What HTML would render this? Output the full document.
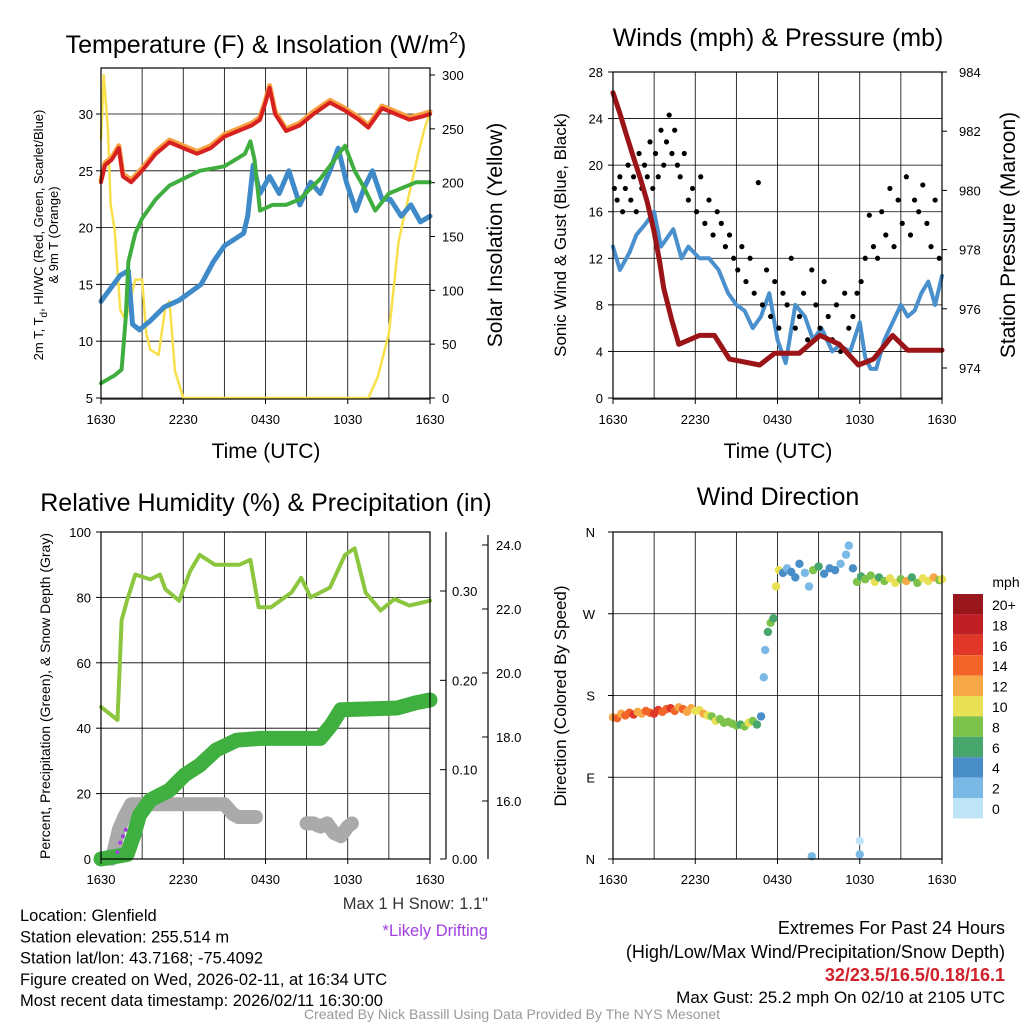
<!DOCTYPE html>
<html><head><meta charset="utf-8"><style>
html,body{margin:0;padding:0;background:#fff}
svg{display:block;font-family:"Liberation Sans",sans-serif}
</style></head><body>
<svg id="s" width="1024" height="1024" viewBox="0 0 1024 1024" xmlns="http://www.w3.org/2000/svg"></svg>
<script>
// ---- Panel 1 data ----
const redT=[0,0.3,0.8,1.3,1.6,2.2,3,4,5,6,7,8,9,10,11,11.6,12,12.3,12.7,13.5,14.5,15.5,16.7,17.8,18.8,19.5,20.5,21.5,22.5,23.5,24];
const redV=[24,25.5,26,27,24.5,24,25,26.5,27.5,27,26.5,27,28,28.5,29,29.5,31,32.3,30,28.5,29,30,31,30.3,29.5,28.8,30.5,30,29.5,29.8,30];
const greenT=[0,1,1.5,1.8,2,2.5,3,4,5,6,7.2,9,10.5,10.9,11.2,11.6,12.5,13.5,14.5,16,17.8,18.5,19.2,20,21,22,23,24];
const greenV=[6.3,7,7.5,12,17,19.5,20.8,22.5,23.7,24.3,25,25.4,26.5,27.6,26,21.5,22,22,22.5,24.3,27.2,25,23.5,21.5,23,23.5,24,24];
const blueT=[0,1.4,2,2.3,2.8,3.6,4.6,5.7,7.3,8.2,9,10.4,10.7,11.1,11.6,12.3,13,13.7,14.5,15.3,16,16.7,17.3,17.9,18.6,19.2,19.8,20.5,21.1,21.9,22.6,23.3,24];
const blueV=[13.5,15.8,16.2,11.5,11,11.8,13,13.6,15,17,18.4,19.5,21,25.5,23,24.5,23,25,22,24,23,25,27,24,21.5,23.5,25,22.5,22.5,21,22,20.5,21];
const yelT=[0,0.2,0.5,0.7,1,1.4,1.8,2.5,3,3.3,3.6,4.2,4.7,5,5.4,6,6.5,12,19.5,20.2,21,21.7,22.4,23.1,23.6,24];
const yelV=[240,300,250,180,156,82,72,110,110,60,45,40,85,90,25,0,0,0,0,20,60,145,185,225,250,265];
const p1LeftTicks=[5,10,15,20,25,30];
const p1RightTicks=[0,50,100,150,200,250,300];
const timeLabels=["1630","2230","0430","1030","1630"];
// ---- Panel 2 data ----
const windT=[0,0.5,1.2,1.7,2.4,3,3.5,4.4,5,5.5,6.3,7,7.7,8.4,9,9.6,10.2,10.8,11.4,12,12.6,13.3,14,14.6,15.2,16,16.5,17.3,18,18.4,18.8,19.2,19.8,20.2,21,21.5,22,22.5,23,23.5,24];
const windV=[13,11,12.5,14,15,16,13,14.5,12,13,12,12,11,9,8,7.5,6,7,9,5,3,8,7,5,6,4,4.5,4,6.5,3.5,2.5,2.5,5,6,8,7,7.5,9,10,8,10.5];
const gustT=[0.1,0.3,0.5,0.7,0.9,1.1,1.3,1.5,1.7,1.9,2.1,2.3,2.5,2.7,2.9,3.1,3.3,3.5,3.7,3.9,4.1,4.3,4.5,4.7,4.9,5.2,5.5,5.8,6.1,6.4,6.7,7,7.3,7.6,7.9,8.2,8.5,8.8,9.1,9.4,9.7,10,10.3,10.6,10.9,11.2,11.5,11.8,12.1,12.4,12.7,13,13.3,13.6,13.9,14.2,14.5,14.8,15.1,15.4,15.7,16,16.3,16.6,16.9,17.2,17.5,17.8,18.1,18.4,18.7,19,19.3,19.6,19.9,20.2,20.5,20.8,21.1,21.4,21.7,22,22.3,22.6,22.9,23.2,23.5,23.8];
const gustV=[18,17,19,16,18,20,17,19,16,21,18,20,19,22,18,21,19,23,20,22,24.3,21,23,20,19,21,17,18,16,19,15,17,14,16,15,13,14,12,11,13,10,12,9,18.5,8,11,7,10,6,9,8,12,6,7,9,5,11,8,6,10,7,5,8,4,9,6,7,9,10,12,15.7,13,12,16,14,18,13,17,15,19,14,17,16,18.3,15,13,17,12];
const presT=[0,0.5,0.9,1.5,2,2.5,3,3.4,3.7,4.3,4.8,6.3,7.4,8.5,10.7,11.8,13.6,15.1,16.5,17.9,19,20.4,21.5,23,24];
const presV=[983.3,982.6,982,981.1,980.4,979.6,978.6,977.6,976.7,975.6,974.8,975.1,975.1,974.3,974.1,974.5,974.5,975.1,974.8,974.1,974.3,975.1,974.6,974.6,974.6];
const p2LeftTicks=[0,4,8,12,16,20,24,28];
const p2RightTicks=[974,976,978,980,982,984];
// ---- Panel 3 data ----
const rhT=[0,1.2,1.5,1.9,2.5,3.6,4.3,4.7,5.7,6.5,7.2,8.3,10.1,10.9,11.5,12.4,13.9,14.6,15.3,16.7,17.8,18.5,19.3,20.4,21.4,22.5,24];
const rhV=[46.5,42.5,73,79,87,85.5,87,82.5,79,88,93,90,90,91.5,77,77,81.5,86,80,83,93,95,81.5,76,79.5,77.5,79];
const precT=[0,1.9,2.4,2.8,3.6,5,6.1,7.2,8.4,9.9,11.6,16,16.8,17.5,21.6,23,24];
const precV=[0,0.005,0.027,0.049,0.066,0.077,0.094,0.105,0.122,0.133,0.135,0.135,0.15,0.167,0.169,0.175,0.178];
const snowT=[0,0.8,1.3,1.7,2.2,2.8,3.5,5,7,9,9.6,10,10.5,11,11.3,11.4,15,15.5,16,16.5,17,17.5,18,18.3];
const snowV=[14.2,14.2,15.1,15.5,15.9,15.9,15.9,15.9,15.9,15.9,15.6,15.5,15.5,15.5,15.5,NaN,15.3,15.3,15.2,15.3,15.0,14.9,15.2,15.3];
const driftT=[1.2,1.4,1.6,1.8];
const driftV=[14.4,14.7,14.9,15.1];
const p3LeftTicks=[0,20,40,60,80,100];
const p3PrecTicks=[0,0.1,0.2,0.3];
const p3SnowTicks=[16,18,20,22,24];
// ---- Panel 4 data ----
const dirT=[0,0.3,0.6,0.9,1.2,1.5,1.8,2.1,2.4,2.7,3,3.3,3.6,3.9,4.2,4.5,4.8,5.1,5.4,5.7,6,6.3,6.6,6.9,7.2,7.5,7.8,8.1,8.4,8.7,9,9.3,9.6,9.9,10.2,10.5,10.8,11,11.1,11.3,11.5,11.7,11.9,12.1,12.4,12.7,13,13.3,13.6,14,14.3,14.6,15,15.4,15.8,16.2,16.6,17,17.2,17.5,17.8,18.1,18.4,18.8,19.1,19.4,19.8,20.2,20.6,21,21.4,21.8,22.2,22.6,23,23.4,23.8,24,14.5,18,18];
const dirDeg=[156,155,160,158,161,159,162,160,163,161,160,164,162,165,166,163,167,165,162,166,163,164,160,158,157,152,154,150,151,149,147,148,146,150,152,148,157,200,230,250,260,265,300,318,315,320,316,310,325,315,300,318,322,314,320,318,325,335,345,320,305,311,308,312,305,310,306,309,304,308,306,310,304,309,306,310,307,308,3,5,20];
const dirSpd=[13,14,12,15,14,16,13,12,15,14,17,16,15,14,16,15,13,14,12,12,11,10,12,11,9,10,9,8,9,8,8,7,9,10,9,7,5,2,2,6,8,6,10,11,4,3,5,4,4,3,2,8,6,4,5,4,3,2,2,4,8,6,8,9,10,7,8,10,11,9,12,7,8,10,11,12,9,10,2,2,1];
const cbLabels=["20+","18","16","14","12","10","8","6","4","2","0"];
const cbColors=["#9a161d","#c11f26","#e03728","#f26529","#f8a746","#e8e155","#7dc24a","#47a66b","#4a8ec7","#7ab9e5","#bfe4f8"];

const S=document.getElementById('s');
const NS="http://www.w3.org/2000/svg";
function mk(tag,attrs,parent){const e=document.createElementNS(NS,tag);for(const k in attrs)e.setAttribute(k,attrs[k]);(parent||S).appendChild(e);return e;}
function txt(x,y,str,size,anchor,extra){const e=mk('text',Object.assign({x:x,y:y,'font-size':size,'text-anchor':anchor||'middle',fill:'#000'},extra||{}));e.textContent=str;return e;}
function lin(d0,d1,r0,r1){return v=>r0+(v-d0)*(r1-r0)/(d1-d0);}
function pathFrom(T,V,sx,sy){let d="",pen=false;for(let i=0;i<T.length;i++){if(isNaN(V[i])){pen=false;continue;}d+=(pen?"L":"M")+sx(T[i]).toFixed(1)+","+sy(V[i]).toFixed(1);pen=true;}return d;}
function frame(x0,y0,x1,y1,name){
  const g=mk('g',{});
  
  
  for(let h=0;h<=24;h+=3){const x=x0+(x1-x0)*h/24;mk('line',{x1:x,x2:x,y1:y0,y2:y1,stroke:'#000','stroke-width':0.8},g);}
  return g;
}
function border(x0,y0,x1,y1){const r=mk('rect',{x:x0,y:y0,width:x1-x0,height:y1-y0,fill:'none',stroke:'#000','stroke-width':1.2});}
function timeAxis(x0,x1,y,size){for(let i=0;i<timeLabels.length;i++){const x=x0+(x1-x0)*i/4;mk('line',{x1:x,x2:x,y1:y,y2:y+5,stroke:'#000'});const t=txt(x,y+25,timeLabels[i],size);}}
function line(T,V,sx,sy,color,w,name){const p=mk('path',{d:pathFrom(T,V,sx,sy),fill:'none',stroke:color,'stroke-width':w,'stroke-linejoin':'round','stroke-linecap':'round'});return p;}

// ===== Panel 1 =====
(function(){
const x0=101,x1=430,y0=68,y1=399;
const sx=lin(0,24,x0,x1), sy=lin(5,30,398,114), sr=lin(0,300,398,75);
const g=frame(x0,y0,x1,y1,'temperature-grid');
p1LeftTicks.forEach(v=>{mk('line',{x1:x0,x2:x1,y1:sy(v),y2:sy(v),stroke:'#000','stroke-width':0.8},g);mk('line',{x1:x0-5,x2:x0,y1:sy(v),y2:sy(v),stroke:'#000'});const t=txt(x0-8,sy(v)+5,String(v),13,'end');});
p1RightTicks.forEach(v=>{mk('line',{x1:x1,x2:x1+5,y1:sr(v),y2:sr(v),stroke:'#000'});const t=txt(x1+12,sr(v)+5,String(v),13,'start');});
line(yelT,yelV,sx,sr,'#f7e04a',2.5,'insolation-line');
line(blueT,blueV,sx,sy,'#3f8ac8',5,'heat-index-line');
line(greenT,greenV,sx,sy,'#3fae3f',4,'dewpoint-line');
line(redT,redV.map(v=>v+0.2),sx,sy,'#f7a040',5,'temp-9m-line');
line(redT,redV,sx,sy,'#d72020',4,'temp-2m-line');
border(x0,y0,x1,y1);
timeAxis(x0,x1,y1,13);
let t=mk('text',{x:266,y:53,'font-size':25,'text-anchor':'middle'});t.innerHTML='Temperature (F) &amp; Insolation (W/m<tspan dy="-10" font-size="16">2</tspan><tspan dy="10">)</tspan>';
t=txt(0,0,'',13,'middle',{transform:'translate(43,235) rotate(-90)'});t.innerHTML='2m T, T<tspan dy="4" font-size="10">d</tspan><tspan dy="-4">, HI/WC (Red, Green, Scarlet/Blue)</tspan>';
t=txt(0,0,'& 9m T (Orange)',13,'middle',{transform:'translate(58,235) rotate(-90)'});
t=txt(0,0,'Solar Insolation (Yellow)',21,'middle',{transform:'translate(502,235) rotate(-90)'});
t=txt(266,458,'Time (UTC)',21);
})();

// ===== Panel 2 =====
(function(){
const x0=613,x1=942,y0=72,y1=399;
const sx=lin(0,24,x0,x1), sy=lin(0,28,398,72), sr=lin(974,984,368,72);
const g=frame(x0,y0,x1,y1,'winds-grid');
p2LeftTicks.forEach(v=>{mk('line',{x1:x0,x2:x1,y1:sy(v),y2:sy(v),stroke:'#000','stroke-width':0.8},g);mk('line',{x1:x0-5,x2:x0,y1:sy(v),y2:sy(v),stroke:'#000'});const t=txt(x0-10,sy(v)+5,String(v),13,'end');});
p2RightTicks.forEach(v=>{mk('line',{x1:x1,x2:x1+5,y1:sr(v),y2:sr(v),stroke:'#000'});const t=txt(x1+17,sr(v)+5,String(v),13,'start');});
line(windT,windV,sx,sy,'#4a90cc',4,'sonic-wind-line');
for(let i=0;i<gustT.length;i++){const c=mk('circle',{cx:sx(gustT[i]),cy:sy(gustV[i]),r:2.6,fill:'#000'});}
line(presT,presV,sx,sr,'#9b1418',5,'pressure-line');
border(x0,y0,x1,y1);
timeAxis(x0,x1,y1,13);
let t=txt(778,46,'Winds (mph) & Pressure (mb)',25);
t=txt(0,0,'Sonic Wind & Gust (Blue, Black)',17,'middle',{transform:'translate(566,235) rotate(-90)'});
t=txt(0,0,'Station Pressure (Maroon)',21,'middle',{transform:'translate(1015,235) rotate(-90)'});
t=txt(778,458,'Time (UTC)',21);
})();

// ===== Panel 3 =====
(function(){
const x0=101,x1=430,y0=532,y1=859;
const sx=lin(0,24,x0,x1), sy=lin(0,100,859,532), sp=lin(0,0.3,859,591), ss=lin(16,24,801,545);
const g=frame(x0,y0,x1,y1,'humidity-grid');
p3LeftTicks.forEach(v=>{mk('line',{x1:x0,x2:x1,y1:sy(v),y2:sy(v),stroke:'#000','stroke-width':0.8},g);mk('line',{x1:x0-5,x2:x0,y1:sy(v),y2:sy(v),stroke:'#000'});const t=txt(x0-10,sy(v)+5,String(v),13,'end');});
mk('line',{x1:446,x2:446,y1:532,y2:859,stroke:'#000','stroke-width':1.2});
p3PrecTicks.forEach(v=>{mk('line',{x1:446,x2:440,y1:sp(v),y2:sp(v),stroke:'#000'});const t=txt(452,sp(v)+5,v.toFixed(2),13,'start');});
mk('line',{x1:488,x2:488,y1:535,y2:859,stroke:'#000','stroke-width':1.2});
p3SnowTicks.forEach(v=>{mk('line',{x1:488,x2:482,y1:ss(v),y2:ss(v),stroke:'#000'});const t=txt(496,ss(v)+5,v.toFixed(1),13,'start');});
line(snowT,snowV,sx,ss,'#aaaaaa',14,'snow-depth-line');
line(precT,precV,sx,sp,'#3fb03f',15,'precipitation-line');
line(rhT,rhV,sx,sy,'#8cc63f',4,'humidity-line');
for(let i=0;i<driftT.length;i++){const c=mk('circle',{cx:sx(driftT[i]),cy:ss(driftV[i]),r:2,fill:'#a040e0'});}
border(x0,y0,x1,y1);
timeAxis(x0,x1,y1,13);
let t=txt(266,511,'Relative Humidity (%) & Precipitation (in)',25);
t=txt(0,0,'Percent, Precipitation (Green), & Snow Depth (Gray)',14,'middle',{transform:'translate(50,696) rotate(-90)'});
})();

// ===== Panel 4 =====
(function(){
const x0=613,x1=942,y0=532,y1=859;
const sx=lin(0,24,x0,x1), sy=lin(0,360,859,532);
const g=frame(x0,y0,x1,y1,'direction-grid');
const dl=["N","E","S","W","N"];
[0,90,180,270,360].forEach((v,i)=>{mk('line',{x1:x0,x2:x1,y1:sy(v),y2:sy(v),stroke:'#000','stroke-width':0.8},g);mk('line',{x1:x0-5,x2:x0,y1:sy(v),y2:sy(v),stroke:'#000'});const t=txt(x0-18,sy(v)+5,dl[i],13,'end');});
for(let i=0;i<dirT.length;i++){const k=Math.min(10,Math.floor(dirSpd[i]/2));const c=mk('circle',{cx:sx(dirT[i]),cy:sy(dirDeg[i]),r:4.2,fill:cbColors[10-k]});}
border(x0,y0,x1,y1);
timeAxis(x0,x1,y1,13);
let t=txt(778,505,'Wind Direction',25);
t=txt(0,0,'Direction (Colored By Speed)',17,'middle',{transform:'translate(566,696) rotate(-90)'});
t=txt(1006,587,'mph',14,'middle');
for(let i=0;i<cbColors.length;i++){const y=594+i*20.4;const r=mk('rect',{x:953,y:y,width:30,height:20.4,fill:cbColors[i]});const l=txt(992,y+16,cbLabels[i],14,'start');}
})();

// ===== Footer text =====
const info=["Location: Glenfield","Station elevation: 255.514 m","Station lat/lon: 43.7168; -75.4092","Figure created on Wed, 2026-02-11, at 16:34 UTC","Most recent data timestamp: 2026/02/11 16:30:00"];
info.forEach((s,i)=>{const t=txt(20,921+i*21.3,s,16.5,'start');});
let t=txt(488,909,'Max 1 H Snow: 1.1"',16.5,'end',{fill:'#333'});
t=txt(488,936,'*Likely Drifting',16.5,'end',{fill:'#a040e0'});
t=txt(1005,934,'Extremes For Past 24 Hours',18,'end');
t=txt(1005,958,'(High/Low/Max Wind/Precipitation/Snow Depth)',18,'end');
t=txt(1005,981,'32/23.5/16.5/0.18/16.1',18,'end',{fill:'#d0202a','font-weight':'bold'});
t=txt(1005,1003,'Max Gust: 25.2 mph On 02/10 at 2105 UTC',17,'end');
t=txt(512,1019,'Created By Nick Bassill Using Data Provided By The NYS Mesonet',14,'middle',{fill:'#999'});
</script>
</body></html>
